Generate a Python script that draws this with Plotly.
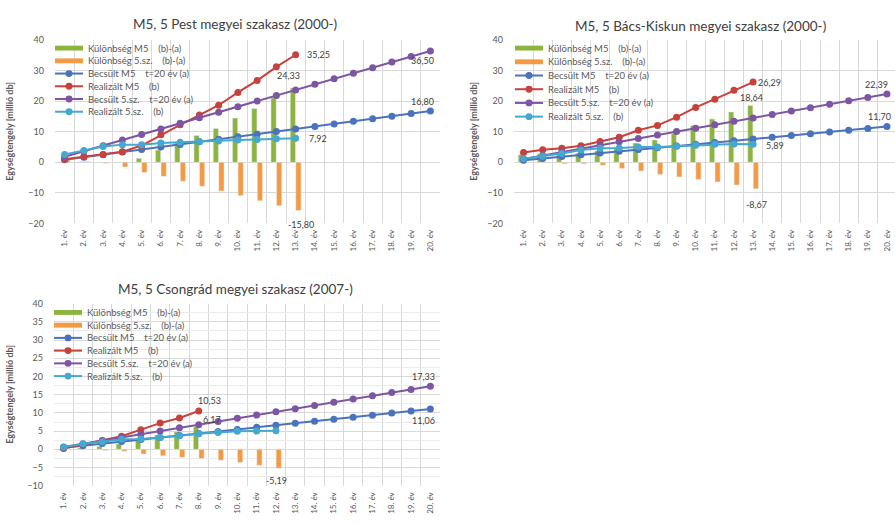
import plotly.graph_objects as go

W, H = 895, 525

YEARS = list(range(1, 21))
YEAR_LABELS = ["1. év", "2. év", "3. év", "4. év", "5. év", "6. év", "7. év",
               "8. év", "9. év", "10. év", "11. év", "12. év", "13. év", "14. év",
               "15. év", "16. év", "17. év", "18. év", "19. év", "20. év"]

# --- M5, 5 Pest megyei szakasz (2000-) ---
PEST_DIFF_M5 = [0.2, 0.2, 0.1, 0.1, 1.3, 4.0, 6.4, 8.8, 11.1, 14.5, 17.6, 21.2, 24.33]
PEST_DIFF_5 = [0.8, 0.3, -0.3, -1.5, -3.3, -4.6, -6.2, -7.8, -9.4, -10.9, -12.6, -14.2, -15.80]
PEST_EST_M5 = [0.84, 1.68, 2.52, 3.36, 4.20, 5.04, 5.88, 6.72, 7.56, 8.40, 9.24, 10.08,
               10.92, 11.76, 12.60, 13.44, 14.28, 15.12, 15.96, 16.80]
PEST_REAL_M5 = [1.0, 1.9, 2.6, 3.5, 5.5, 9.0, 12.3, 15.5, 18.7, 22.9, 26.8, 31.3, 35.25]
PEST_EST_5 = [1.81, 3.64, 5.46, 7.29, 9.11, 10.94, 12.77, 14.59, 16.42, 18.25, 20.07,
              21.90, 23.72, 25.55, 27.37, 29.20, 31.03, 32.85, 34.68, 36.50]
PEST_REAL_5 = [2.6, 3.9, 5.2, 5.8, 5.8, 6.3, 6.6, 6.8, 7.0, 7.3, 7.5, 7.7, 7.92]

# --- M5, 5 Bács-Kiskun megyei szakasz (2000-) ---
BK_DIFF_M5 = [2.49, 2.81, 2.73, 2.95, 3.78, 4.60, 6.32, 7.34, 9.46, 12.08, 14.21, 16.53, 18.64]
BK_DIFF_5 = [0.1, -0.2, -0.45, -0.47, -0.99, -2.01, -2.83, -3.95, -4.77, -5.59, -6.41, -7.43, -8.67]
BK_EST_M5 = [0.71, 1.29, 1.87, 2.45, 3.02, 3.60, 4.18, 4.76, 5.34, 5.92, 6.49, 7.07,
             7.65, 8.23, 8.81, 9.39, 9.97, 10.54, 11.12, 11.70]
BK_REAL_M5 = [3.2, 4.1, 4.6, 5.4, 6.8, 8.2, 10.5, 12.1, 14.8, 18.0, 20.7, 23.6, 26.29]
BK_EST_5 = [1.11, 2.23, 3.35, 4.47, 5.59, 6.71, 7.83, 8.95, 10.07, 11.19, 12.31, 13.43,
            14.56, 15.67, 16.79, 17.91, 19.03, 20.15, 21.27, 22.39]
BK_REAL_5 = [1.2, 2.0, 2.9, 4.0, 4.6, 4.7, 5.0, 5.0, 5.3, 5.6, 5.9, 6.0, 5.89]

# --- M5, 5 Csongrád megyei szakasz (2007-) ---
CS_DIFF_M5 = [-0.25, 0.34, 0.83, 1.48, 2.72, 3.96, 4.80, 6.17]
CS_DIFF_5 = [0.0, 0.0, -0.3, -0.5, -1.3, -1.8, -2.2, -2.5, -3.0, -3.6, -4.4, -5.19]
CS_EST_M5 = [0.45, 1.01, 1.57, 2.12, 2.68, 3.24, 3.80, 4.36, 4.92, 5.47, 6.03, 6.59,
             7.15, 7.71, 8.26, 8.82, 9.38, 9.94, 10.50, 11.06]
CS_REAL_M5 = [0.2, 1.35, 2.4, 3.6, 5.4, 7.2, 8.6, 10.53]
CS_EST_5 = [0.61, 1.49, 2.37, 3.25, 4.13, 5.01, 5.89, 6.77, 7.65, 8.53, 9.41, 10.29,
            11.17, 12.05, 12.93, 13.81, 14.69, 15.57, 16.45, 17.33]
CS_REAL_5 = [0.6, 1.5, 2.1, 2.75, 2.83, 3.21, 3.69, 4.27, 4.65, 4.93, 5.01, 5.10]

GAP = "\u00a0" * 4
SERIES_NAMES = ["Különbség M5" + GAP + "(b)-(a)", "Különbség 5.sz." + GAP + "(b)-(a)",
                "Becsült M5" + GAP + "t=20 év (a)", "Realizált M5" + GAP + "(b)",
                "Becsült 5.sz." + GAP + "t=20 év (a)", "Realizált 5.sz." + GAP + "(b)"]

GREEN = "#8cb43f"
ORANGE = "#f39a43"
BLUE = "#4a72bd"
RED = "#c8413a"
PURPLE = "#7d55a3"
AQUA = "#45a9cf"
GRID = "#d9d9d9"
TEXT = "#404040"
FONT = "Lato, 'Open Sans', sans-serif"

fig = go.Figure()


def px_x(v):
    return v / W


def px_y(v):
    return 1 - v / H


def add_panel(idx, title, title_pos, diff_m5, diff_5, est_m5, real_m5, est_5, real_5,
              xdom, ydom, xrange, yrange, ydtick, yminor, ytitle_x,
              legend_pos, legend_step, labels):
    sfx = "" if idx == 1 else str(idx)
    xa, ya = "x" + sfx, "y" + sfx

    fig.add_trace(go.Bar(x=YEARS[:len(diff_m5)], y=diff_m5, marker_color=GREEN,
                         width=0.27, offset=-0.28, xaxis=xa, yaxis=ya,
                         showlegend=False, name=SERIES_NAMES[0]))
    fig.add_trace(go.Bar(x=YEARS[:len(diff_5)], y=diff_5, marker_color=ORANGE,
                         width=0.27, offset=0.01, xaxis=xa, yaxis=ya,
                         showlegend=False, name=SERIES_NAMES[1]))
    for vals, col, nm in [(est_m5, BLUE, SERIES_NAMES[2]), (real_m5, RED, SERIES_NAMES[3]),
                          (est_5, PURPLE, SERIES_NAMES[4]), (real_5, AQUA, SERIES_NAMES[5])]:
        fig.add_trace(go.Scatter(x=YEARS[:len(vals)], y=vals, mode="lines+markers",
                                 line=dict(color=col, width=2),
                                 marker=dict(color=col, size=7),
                                 xaxis=xa, yaxis=ya, showlegend=False, name=nm))

    fig.layout["xaxis" + sfx] = dict(
        domain=xdom, range=xrange, anchor=ya, tickmode="array",
        tickvals=YEARS, ticktext=YEAR_LABELS, tickangle=-90,
        tickfont=dict(size=8, color="#595959", family=FONT),
        showgrid=False, zeroline=False, showline=False, ticks="",
        ticklabelstandoff=4,
        minor=dict(tick0=0.5, dtick=1, showgrid=True, gridcolor=GRID, gridwidth=1))
    yax = dict(
        domain=ydom, range=yrange, anchor=xa, dtick=ydtick, tick0=0,
        tickfont=dict(size=9, color="#595959", family=FONT),
        showgrid=True, gridcolor=GRID, gridwidth=1, zeroline=False, showline=False,
        ticks="", ticklabelstandoff=10)
    if yminor:
        yax["minor"] = dict(dtick=yminor, showgrid=True, gridcolor="#ececec")
    fig.layout["yaxis" + sfx] = yax

    fig.add_annotation(text=title, x=px_x(title_pos[0]), y=px_y(title_pos[1]),
                       xref="paper", yref="paper", showarrow=False,
                       xanchor="center", yanchor="middle",
                       font=dict(size=13.5, color=TEXT, family=FONT))
    yc = (ydom[0] + ydom[1]) / 2
    fig.add_annotation(text="<b>Egységtengely [millió db]</b>", x=px_x(ytitle_x), y=yc,
                       xref="paper", yref="paper", showarrow=False, textangle=-90,
                       xanchor="center", yanchor="middle",
                       font=dict(size=9, color="#595959", family=FONT))

    # legend keys
    lx, ly = legend_pos
    key_cols = [GREEN, ORANGE, BLUE, RED, PURPLE, AQUA]
    for i, (nm, col) in enumerate(zip(SERIES_NAMES, key_cols)):
        cy = ly + i * legend_step
        if i < 2:
            fig.add_shape(type="rect", xref="paper", yref="paper",
                          x0=px_x(lx), x1=px_x(lx + 28), y0=px_y(cy - 2.5), y1=px_y(cy + 2.5),
                          fillcolor=col, line=dict(width=0))
        else:
            fig.add_shape(type="line", xref="paper", yref="paper",
                          x0=px_x(lx), x1=px_x(lx + 28), y0=px_y(cy), y1=px_y(cy),
                          line=dict(color=col, width=2))
            fig.add_shape(type="circle", xref="paper", yref="paper",
                          x0=px_x(lx + 10.5), x1=px_x(lx + 17.5),
                          y0=px_y(cy - 3.5), y1=px_y(cy + 3.5),
                          fillcolor=col, line=dict(width=0))
        fig.add_annotation(text=nm, x=px_x(lx + 31), y=px_y(cy), xref="paper", yref="paper",
                           xanchor="left", yanchor="middle", showarrow=False,
                           font=dict(size=9.5, color="#595959", family=FONT))

    for txt, xv, yv, dx, dy in labels:
        fig.add_annotation(text=txt, x=xv, y=yv, xref=xa, yref=ya, showarrow=False,
                           xanchor="center", yanchor="middle",
                           xshift=dx, yshift=dy,
                           font=dict(size=9, color=TEXT, family=FONT))


add_panel(1, "M5, 5 Pest megyei szakasz (2000-)", (235, 18),
          PEST_DIFF_M5, PEST_DIFF_5, PEST_EST_M5, PEST_REAL_M5, PEST_EST_5, PEST_REAL_5,
          [55 / W, 440 / W], [1 - 222 / H, 1 - 35 / H], [0.5, 20.5], [-20, 40], 10, None, 10,
          (55, 43), 13,
          [("35,25", 13, 35.25, 23, 0), ("24,33", 13, 24.33, -7, 13),
           ("7,92", 13, 7.92, 22, 0), ("-15,80", 13, -15.80, 5, -14),
           ("16,80", 20, 16.80, -8, 10), ("36,50", 20, 36.50, -8, -10)])

add_panel(2, "M5, 5 Bács-Kiskun megyei szakasz (2000-)", (700, 20),
          BK_DIFF_M5, BK_DIFF_5, BK_EST_M5, BK_REAL_M5, BK_EST_5, BK_REAL_5,
          [514 / W, 1.0], [1 - 222 / H, 1 - 35 / H], [0.5, 20.42], [-20, 40], 10, None, 474,
          (515, 43), 14,
          [("26,29", 13, 26.29, 16, 0), ("18,64", 13, 18.64, -2, 8),
           ("5,89", 13, 5.89, 22, -1), ("-8,67", 13, -8.67, 3, -16),
           ("22,39", 20, 22.39, -10, 9), ("11,70", 20, 11.70, -7, 10)])

add_panel(3, "M5, 5 Csongrád megyei szakasz (2007-)", (235, 289),
          CS_DIFF_M5, CS_DIFF_5, CS_EST_M5, CS_REAL_M5, CS_EST_5, CS_REAL_5,
          [54 / W, 440 / W], [1 - 490 / H, 1 - 304 / H], [0.5, 20.5], [-10, 40], 5, 2.5, 10,
          (54, 313), 13,
          [("10,53", 8, 10.53, 11, 10), ("6,17", 8, 6.17, 13, 7),
           ("-5,19", 12, -5.19, 1, -12), ("11,06", 20, 11.06, -7, -11),
           ("17,33", 20, 17.33, -7, 10)])

fig.update_layout(width=W, height=H, margin=dict(l=0, r=0, t=0, b=0),
                  paper_bgcolor="white", plot_bgcolor="white", barmode="overlay",
                  showlegend=False, font=dict(family=FONT))

fig.write_html("out.html")
